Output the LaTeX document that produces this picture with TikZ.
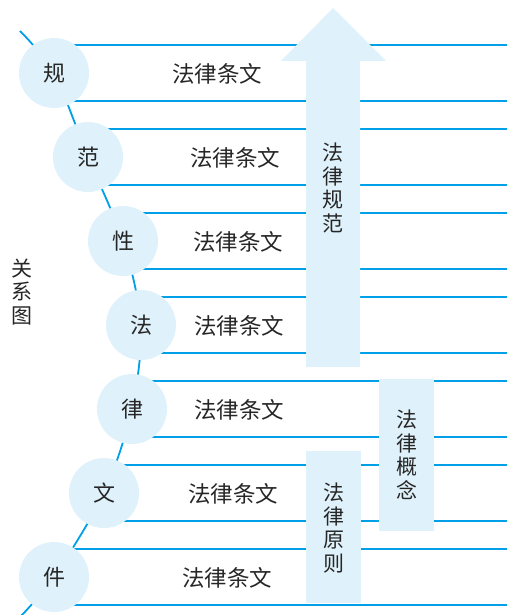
\documentclass[tikz,border=0pt]{standalone}
\usepackage{fontspec}
\newfontfamily\cjk{Noto Sans CJK SC}
\definecolor{lineblue}{RGB}{0,160,233}
\definecolor{lightblue}{RGB}{223,241,250}
\begin{document}
\begin{tikzpicture}[x=1pt,y=-1pt,
  rule/.style={draw=lineblue,line width=1.3pt},
  curveline/.style={draw=lineblue,line width=1.8pt},
  circ/.style={circle,fill=lightblue,minimum size=70pt,inner sep=0pt,text=black!85,font=\cjk\fontsize{22}{22}\selectfont},
  rowtext/.style={text=black!85,font=\cjk\fontsize{22.5}{22.5}\selectfont},
  vbox/.style={fill=lightblue,inner sep=0pt,minimum width=55pt,minimum height=152pt},
  vtext/.style={text=black!85,align=center,inner sep=0pt,font=\cjk\fontsize{21}{23.5}\selectfont}
]
\useasboundingbox (0,0) rectangle (506,615);
% circle centres
\coordinate (p1) at (54,73);
\coordinate (p2) at (88,157);
\coordinate (p3) at (123,241);
\coordinate (p4) at (141,325);
\coordinate (p5) at (132,409);
\coordinate (p6) at (104,493);
\coordinate (p7) at (54,577);
\coordinate (top) at (20,31);
\coordinate (bot) at (20,617);
% curve through circles
\draw[curveline] plot[smooth] coordinates {(top) (p1) (p2) (p3) (p4) (p5) (p6) (p7) (bot)};
% horizontal rules
\foreach \i in {1,...,7}{
  \draw[rule] (p\i) ++(0,-28) -- ++(460,0);
  \draw[rule] (p\i) ++(0,28) -- ++(460,0);
}
% circles
\node[circ] (c1) at (p1) {规};
\node[circ] (c2) at (p2) {范};
\node[circ] (c3) at (p3) {性};
\node[circ] (c4) at (p4) {法};
\node[circ] (c5) at (p5) {律};
\node[circ] (c6) at (p6) {文};
\node[circ] (c7) at (p7) {件};
% row texts
\node[rowtext] (t1) at (217,74) {法律条文};
\node[rowtext] (t2) at (235,158) {法律条文};
\node[rowtext] (t3) at (238,242) {法律条文};
\node[rowtext] (t4) at (239,326) {法律条文};
\node[rowtext] (t5) at (239,410) {法律条文};
\node[rowtext] (t6) at (233,494) {法律条文};
\node[rowtext] (t7) at (227,578) {法律条文};
% big arrow
\fill[lightblue] (306,367) -- (306,61) -- (281,61) -- (333,8) -- (386,61) -- (360,61) -- (360,367) -- cycle;
\node[vtext] (arrowtext) at (333,188) {法\\律\\规\\范};
% boxes
\node[vbox] (concept) at (406.5,455) {};
\node[vtext] (concepttext) at (406.5,455) {法\\律\\概\\念};
\node[vbox] (principle) at (333.5,527) {};
\node[vtext] (principletext) at (333.5,528) {法\\律\\原\\则};
% side label
\node[vtext] (side) at (22,292) {关\\系\\图};
\end{tikzpicture}
\end{document}
